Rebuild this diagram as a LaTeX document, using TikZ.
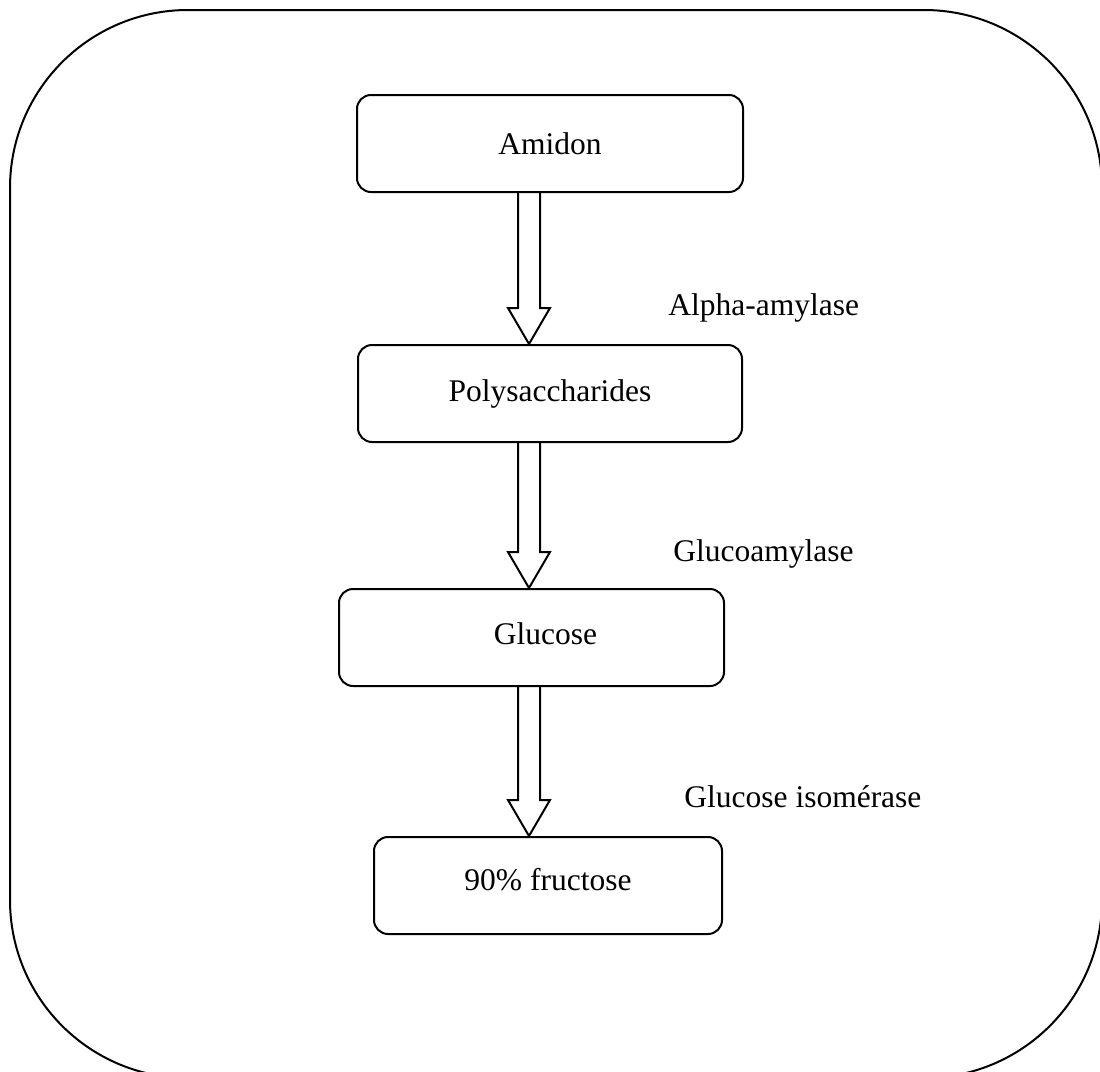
\documentclass[tikz,border=0pt]{standalone}
\usepackage{fontspec}
\setmainfont{Liberation Serif}

\begin{document}
\begin{tikzpicture}[x=.5pt,y=-.5pt,
  font=\fontsize{15.75}{19}\selectfont,
  stepbox/.style={draw, line width=1pt, rounded corners=7pt, minimum width=#1, minimum height=48.5pt, inner sep=0pt},
  enzyme/.style={anchor=base west, inner sep=0pt},
  hollowarrow/.style={draw, line width=1pt}]
\useasboundingbox (0,0) rectangle (1100,1072);
\draw[line width=1pt, rounded corners=89pt] (10,10) rectangle (1102,1078);
% the four steps
\node[stepbox=193pt] (amidon) at (550,143.5) {Amidon};
\node[stepbox=192pt] (poly) at (550,393.5) {Polysaccharides};
\node[stepbox=192.5pt, label={[xshift=7pt,yshift=2pt]center:Glucose}] (glucose) at (531.5,637.5) {};
\node[stepbox=174pt, label={[yshift=3pt]center:90\% fructose}] (fructose) at (548,885.5) {};
% enzymes
\node[enzyme] (alpha) at (668,315) {Alpha-amylase};
\node[enzyme] (gluco) at (673,561) {Glucoamylase};
\node[enzyme] (isom) at (684,807) {Glucose isomérase};
% hollow arrows
\coordinate (axis) at (529,0);
\foreach \a/\b in {amidon/poly, poly/glucose, glucose/fructose}
  \draw[hollowarrow] ([xshift=-5.5pt]axis |- \a.south) -- ([xshift=-5.5pt,yshift=18pt]axis |- \b.north)
    -- ([xshift=-10.5pt,yshift=18pt]axis |- \b.north) -- (axis |- \b.north)
    -- ([xshift=10.5pt,yshift=18pt]axis |- \b.north) -- ([xshift=5.5pt,yshift=18pt]axis |- \b.north)
    -- ([xshift=5.5pt]axis |- \a.south);
\end{tikzpicture}
\end{document}
